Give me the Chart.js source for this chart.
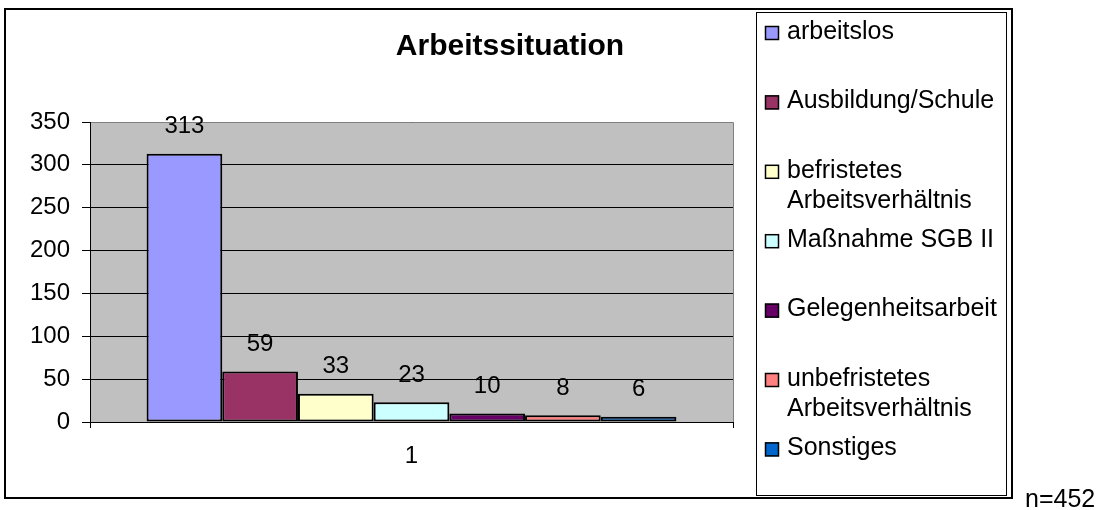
<!DOCTYPE html>
<html>
<head>
<meta charset="utf-8">
<script src="https://cdn.jsdelivr.net/npm/chart.js@4.4.1/dist/chart.umd.min.js"></script>
<style>
  html, body { margin: 0; padding: 0; background: #fff; }
</style>
</head>
<body>
<canvas id="chart" width="1102" height="510"></canvas>
<script>
// Daten
const categories = ['1'];
const seriesNames = ['arbeitslos', 'Ausbildung/Schule', 'befristetes Arbeitsverhältnis', 'Maßnahme SGB II',
                     'Gelegenheitsarbeit', 'unbefristetes Arbeitsverhältnis', 'Sonstiges'];
const seriesValues = [313, 59, 33, 23, 10, 8, 6];
const seriesColors = ['#9999FF', '#993366', '#FFFFCC', '#CCFFFF', '#660066', '#FF8080', '#0066CC'];
const yTicks = [0, 50, 100, 150, 200, 250, 300, 350];
const chartTitle = 'Arbeitssituation';
const sampleNote = 'n=452';

const FONT = "'Liberation Sans', Arial, sans-serif";
Chart.defaults.font.family = FONT;
Chart.defaults.color = '#000';

// Rahmen, Titel, Legende und Werte
const framePlugin = {
    id: 'frame',
    beforeDraw(chart) {
        const { ctx, chartArea: a } = chart;
        ctx.save();
        ctx.fillStyle = '#fff';
        ctx.fillRect(0, 0, chart.width, chart.height);
        ctx.fillStyle = '#C0C0C0';
        ctx.fillRect(a.left, a.top, a.right - a.left, a.bottom - a.top);
        ctx.restore();
    },
    afterDraw(chart) {
        const { ctx, chartArea: a } = chart;
        ctx.save();

        // grauer Rand der Zeichnungsfläche (oben, rechts)
        ctx.strokeStyle = '#808080';
        ctx.lineWidth = 1;
        ctx.beginPath();
        ctx.moveTo(a.left + 1, a.top + 0.5);
        ctx.lineTo(a.right + 0.5, a.top + 0.5);
        ctx.lineTo(a.right + 0.5, a.bottom);
        ctx.stroke();

        // Datenbeschriftungen
        ctx.fillStyle = '#000';
        ctx.font = '24px ' + FONT;
        ctx.textAlign = 'center';
        ctx.textBaseline = 'middle';
        chart.data.datasets.forEach((ds, i) => {
            const bar = chart.getDatasetMeta(i).data[0];
            ctx.fillText(String(ds.data[0]), bar.x, bar.y - 27);
        });

        // Titel
        ctx.font = 'bold 30px ' + FONT;
        ctx.fillText(chartTitle, 510, 47);

        // Legende
        ctx.strokeStyle = '#000';
        ctx.lineWidth = 1;
        ctx.strokeRect(756.5, 12.5, 250, 483);
        ctx.font = '25px ' + FONT;
        ctx.textAlign = 'left';
        seriesNames.forEach((name, i) => {
            const y = 32 + i * 69.4;
            ctx.fillStyle = seriesColors[i];
            ctx.fillRect(765, y - 6, 14, 14);
            ctx.lineWidth = 1.5;
            ctx.strokeRect(765.5, y - 5.5, 13, 13);
            ctx.fillStyle = '#000';
            const lines = ctx.measureText(name).width > 230 ? name.split(' ') : [name];
            lines.forEach((ln, j) => ctx.fillText(ln, 787, y + j * 30));
        });

        // äußerer Rahmen
        ctx.lineWidth = 2;
        ctx.strokeRect(5, 9, 1007, 489);

        // Stichprobe
        ctx.textBaseline = 'alphabetic';
        ctx.fillText(sampleNote, 1025, 507);
        ctx.restore();
    }
};

const ctx = document.getElementById('chart').getContext('2d');
new Chart(ctx, {
    type: 'bar',
    data: {
        labels: categories,
        datasets: seriesNames.map((name, i) => ({
            label: name,
            data: [seriesValues[i]],
            backgroundColor: seriesColors[i],
            borderColor: '#000',
            borderWidth: 2,
            borderSkipped: false,
            categoryPercentage: 0.824,
            barPercentage: 1
        }))
    },
    options: {
        responsive: false,
        animation: false,
        devicePixelRatio: 1,
        layout: { padding: { left: 0, top: 122, right: 369, bottom: 38 } },
        plugins: {
            legend: { display: false },
            tooltip: { enabled: false },
            title: { display: false }
        },
        scales: {
            x: {
                grid: { display: true, drawOnChartArea: false, tickLength: 6, color: '#000', offset: true },
                border: { color: '#000' },
                ticks: { font: { size: 24 }, padding: 14, color: '#000' },
                afterFit: s => { s.height = 50; }
            },
            y: {
                min: yTicks[0],
                max: yTicks[yTicks.length - 1],
                ticks: { stepSize: yTicks[1] - yTicks[0], font: { size: 24 }, padding: 12, color: '#000' },
                grid: { color: '#000', tickLength: 8 },
                border: { color: '#000' },
                afterFit: s => { s.width = 90; }
            }
        }
    },
    plugins: [framePlugin]
});
</script>
</body>
</html>
